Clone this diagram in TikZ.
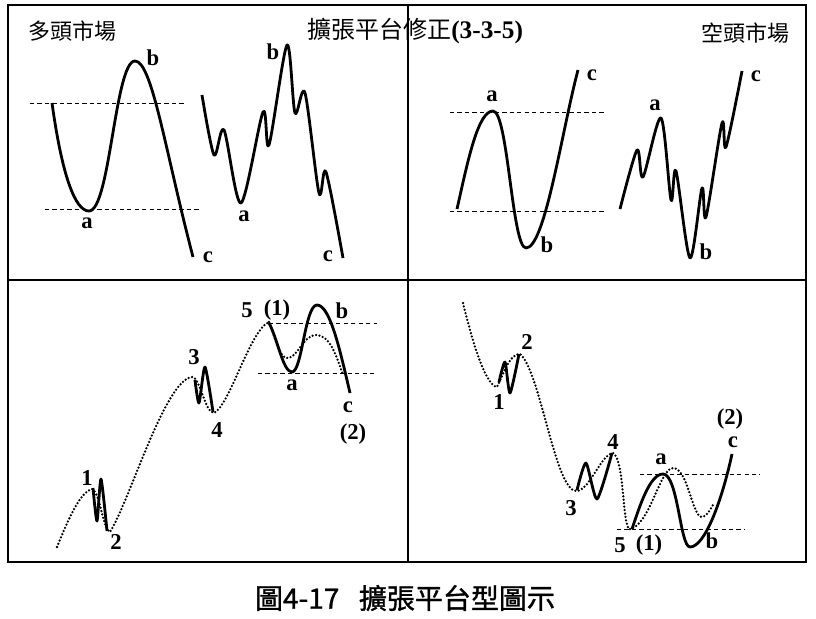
\documentclass[tikz,border=0pt]{standalone}
\usepackage{fontspec}
\setmainfont{Liberation Serif}
\newfontfamily\cjk{Noto Sans CJK TC}
\newfontfamily\cjkcap[FakeBold=1.2]{Noto Sans CJK TC}
\begin{document}
\begin{tikzpicture}[x=0.75pt,y=0.75pt,yscale=-1,xscale=1,
    wave/.style={line width=2.1pt, line join=round},
    dotwave/.style={line width=1.9pt, dash pattern=on 0pt off 2.6pt, line cap=round},
    guide/.style={line width=0.75pt, dash pattern=on 3.2pt off 2.4pt},
    lbl/.style={font=\fontsize{17}{17}\selectfont\bfseries, inner sep=0.75pt},
    ttl/.style={font=\fontsize{16.5}{16.5}\selectfont, inner sep=0.75pt}]
\useasboundingbox (0,0) rectangle (816,618);

% Frame
\draw [line width=1.1pt] (8,5) rectangle (806,562);
\draw [line width=1.1pt] (8,280) -- (806,280);
\draw [line width=1.1pt] (408,5) -- (408,562);

% Text Node
\node [ttl, anchor=west] (bull) at (27,31) {\cjk 多頭市場};
\node [ttl, anchor=west] (title) at (306,31) {{\cjk\fontsize{18}{18}\selectfont 擴張平台修正}{\bfseries\fontsize{19}{19}\selectfont(3-3-5)}};
\node [ttl, anchor=east] (bear) at (791,33) {\cjk 空頭市場};

%Dashed Lines (top left)
\draw [guide] (30,103) -- (185,103);
\draw [guide] (45,209) -- (199,209);
%Curve Lines
\draw [wave] (52,103) .. controls (62,175) and (75,211) .. (89,211) .. controls (110,211) and (115,61) .. (135,61) .. controls (152,61) and (165,150) .. (193,257);
\draw [wave] plot [smooth, tension=0.5] coordinates {(202,95) (214,155) (224,130) (241,203) (263,112) (269,145) (287,45) (295,113) (305,93) (319,193) (326,172) (343,258)};
% Text Node
\node [lbl] (ulA) at (87,223) {a};
\node [lbl] (ulB) at (153,58) {b};
\node [lbl] (ulC) at (208,257) {c};
\node [lbl] (urA) at (244,216) {a};
\node [lbl] (urB) at (273,52) {b};
\node [lbl] (urC) at (328,256) {c};

%Dashed Lines (top right)
\draw [guide] (450,112) -- (605,112);
\draw [guide] (450,211) -- (605,211);
%Curve Lines
\draw [wave] (457,209) .. controls (468,160) and (478,111) .. (493,111) .. controls (508,111) and (512,248) .. (526,248) .. controls (545,248) and (562,130) .. (578,70);
\draw [wave] plot [smooth, tension=0.5] coordinates {(620,209) (637,150) (643,177) (661,118) (671,200) (676,171) (690,258) (702,188) (706,217) (722,123) (726,147) (742,71)};
% Text Node
\node [lbl] (brA) at (492,96) {a};
\node [lbl] (brB) at (547,245) {b};
\node [lbl] (brC) at (592,75) {c};
\node [lbl] (bwA) at (655,105) {a};
\node [lbl] (bwB) at (706,252) {b};
\node [lbl] (bwC) at (756,76) {c};

%Dashed Lines (bottom left)
\draw [guide] (269,323) -- (377,323);
\draw [guide] (258,373) -- (377,373);
%Dotted impulse
\draw [dotwave] (57,547) .. controls (68,520) and (80,492) .. (92,489) .. controls (100,492) and (103,530) .. (110,532) .. controls (130,500) and (165,380) .. (192,377) .. controls (200,377) and (205,413) .. (214,413) .. controls (230,405) and (250,330) .. (269,322);
\draw [dotwave] (269,322) .. controls (276,340) and (280,358) .. (287,358) .. controls (298,358) and (303,335) .. (316,335) .. controls (330,335) and (336,355) .. (343,375);
%Solid waves
\draw [wave] plot [smooth, tension=0.4] coordinates {(93,488) (97,521) (101,479) (107,531)};
\draw [wave] plot [smooth, tension=0.4] coordinates {(195,380) (199,403) (205,367) (213,412)};
\draw [wave] (269,323) .. controls (278,340) and (283,372) .. (292,372) .. controls (302,372) and (305,305) .. (317,305) .. controls (330,305) and (340,350) .. (350,393);
% Text Node
\node [lbl] (bl1) at (87,478) {1};
\node [lbl] (bl2) at (116,542) {2};
\node [lbl] (bl3) at (194,357) {3};
\node [lbl] (bl4) at (217,430) {4};
\node [lbl] (bl5) at (247,310) {5};
\node [lbl] (blOne) at (277,310) {(1)};
\node [lbl] (blA) at (292,385) {a};
\node [lbl] (blB) at (342,311) {b};
\node [lbl] (blC) at (348,407) {c};
\node [lbl] (blTwo) at (353,434) {(2)};

%Dashed Lines (bottom right)
\draw [guide] (640,474) -- (760,474);
\draw [guide] (617,529) -- (745,529);
%Dotted impulse
\draw [dotwave] (463,303) .. controls (472,340) and (485,385) .. (497,387) .. controls (505,370) and (510,354) .. (520,354) .. controls (540,370) and (555,490) .. (576,491) .. controls (590,491) and (600,455) .. (613,453) .. controls (625,460) and (622,529) .. (630,529);
\draw [dotwave] (630,529) .. controls (650,525) and (660,468) .. (673,468) .. controls (688,468) and (692,517) .. (702,517) .. controls (706,517) and (710,510) .. (713,505);
%Solid waves
\draw [wave] plot [smooth, tension=0.4] coordinates {(499,382) (505,362) (510,393) (519,354)};
\draw [wave] plot [smooth, tension=0.4] coordinates {(577,490) (586,463) (597,499) (612,453)};
\draw [wave] (632,529) .. controls (640,505) and (650,474) .. (663,474) .. controls (678,474) and (680,547) .. (690,547) .. controls (705,547) and (722,500) .. (732,454);
% Text Node
\node [lbl] (br1) at (499,402) {1};
\node [lbl] (br2) at (527,342) {2};
\node [lbl] (br3) at (571,508) {3};
\node [lbl] (br4) at (613,442) {4};
\node [lbl] (br5) at (620,545) {5};
\node [lbl] (brOne) at (649,545) {(1)};
\node [lbl] (brWa) at (661,459) {a};
\node [lbl] (brWb) at (712,541) {b};
\node [lbl] (brWc) at (733,442) {c};
\node [lbl] (brTwo) at (730,419) {(2)};

% Caption
\node [inner sep=0.75pt, font=\fontsize{21}{21}\selectfont\cjkcap] (caption) at (405,598) {圖4-17\hspace{0.7em}擴張平台型圖示};

\end{tikzpicture}
\end{document}
